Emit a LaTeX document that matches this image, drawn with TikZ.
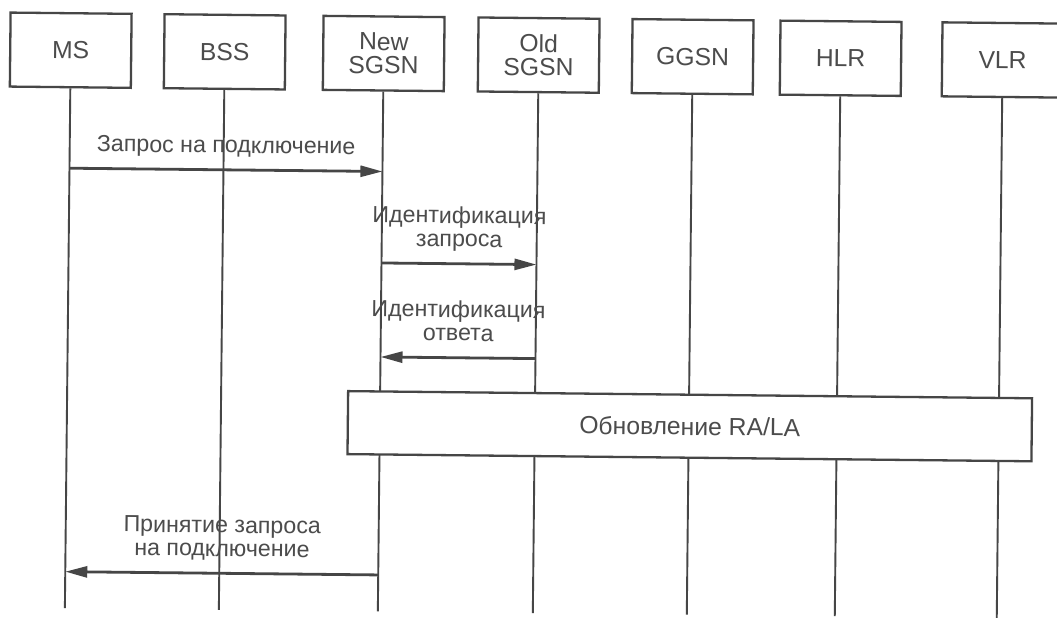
\documentclass[tikz,border=0pt]{standalone}
\usepackage{fontspec}
\setmainfont{Liberation Sans}
\usetikzlibrary{arrows.meta}
\definecolor{ink}{HTML}{464646}
\definecolor{txt}{HTML}{4C4C4C}
% two centred lines whose baseline is that of the last line
\newcommand\twolines[2]{\begin{tabular}[b]{@{}c@{}}#1\\#2\end{tabular}}

\begin{document}
\begin{tikzpicture}[x=1pt,y=-1pt,
  entity/.style={draw=ink, line width=2.3pt, fill=white,
    minimum width=121pt, minimum height=74pt, inner sep=0pt,
    text=txt, font=\fontsize{24.7}{23.5}\selectfont, align=center},
  life/.style={draw=ink, line width=1.9pt},
  msg/.style={draw=ink, line width=2.8pt,
    -{Triangle[length=22pt,width=11pt]}},
  lbl/.style={text=txt, font=\fontsize{23.2}{23.5}\selectfont,
    anchor=base, inner sep=0pt, yshift=17pt},
  phasebox/.style={draw=ink, line width=2.3pt, fill=white,
    minimum width=684pt, minimum height=63pt, inner sep=0pt,
    text=txt, font=\fontsize{24.7}{28}\selectfont}]
\useasboundingbox (0,0) rectangle (1057,619);
\fill[white] (0,0) rectangle (1057,619);
\clip (0,0) rectangle (1057,619);

\begin{scope}[rotate around={-0.6:(528,310)}, transform shape]
  % participants
  \node[entity] (ms)   at (68,55)   {MS};
  \node[entity] (bss)  at (222,55)  {BSS};
  \node[entity] (nsg)  at (381,55)  {New\\SGSN};
  \node[entity] (osg)  at (536,55)  {Old\\SGSN};
  \node[entity] (ggsn) at (690,55)  {GGSN};
  \node[entity] (hlr)  at (838,55)  {HLR};
  \node[entity] (vlr)  at (1000,55) {VLR};

  % lifelines
  \foreach \p in {ms,bss,nsg,osg,ggsn,hlr,vlr}
    \draw[life] (\p.south) -- (\p.south |- 0,613);

  % messages
  \draw[msg] (ms.south |- 0,173) -- (nsg.south |- 0,173)
    node[midway, lbl] {Запрос на подключение};
  \draw[msg] (nsg.south |- 0,264.5) -- (osg.south |- 0,264.5)
    node[midway, lbl] {\twolines{Идентификация}{запроса}};
  \draw[msg] (osg.south |- 0,358.5) -- (nsg.south |- 0,358.5)
    node[midway, lbl] {\twolines{Идентификация}{ответа}};

  % RA/LA update spanning New SGSN .. VLR
  \node[phasebox] (upd) at (691,424.5) {Обновление RA/LA};

  \draw[msg] (nsg.south |- 0,576.5) -- (ms.south |- 0,576.5)
    node[midway, lbl] {\twolines{Принятие запроса}{на подключение}};
\end{scope}
\end{tikzpicture}
\end{document}
